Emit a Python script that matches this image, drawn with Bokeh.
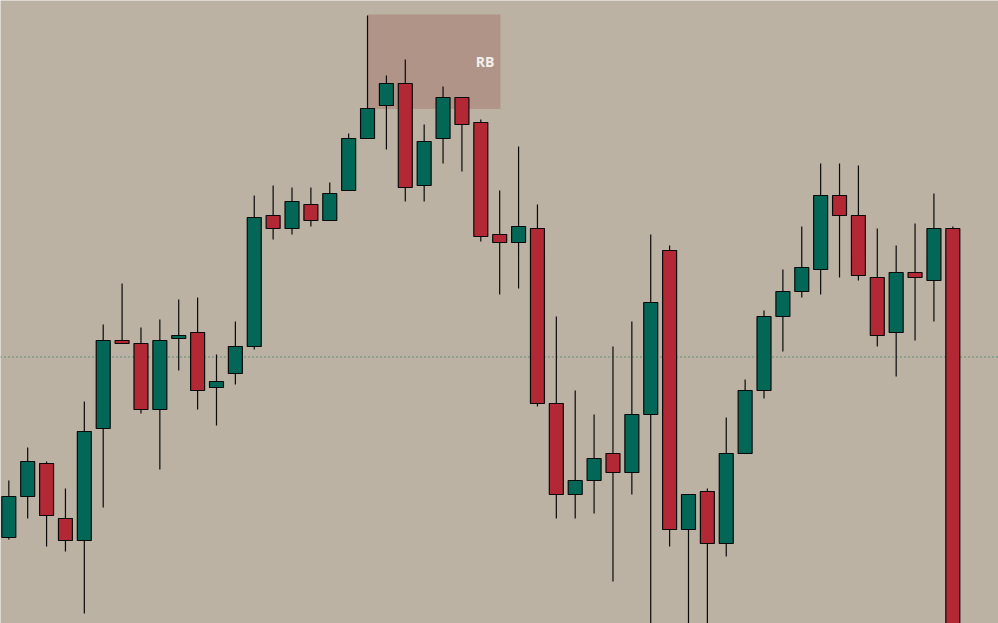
from bokeh.plotting import figure
from bokeh.models import Range1d, ColumnDataSource, Span, BoxAnnotation, Label
from bokeh.embed import file_html
from bokeh.resources import INLINE

# OHLC values (arbitrary price units)
opens  = [86, 127, 160, 105, 83, 195, 283, 280, 214, 285, 291, 236, 250, 277, 408, 395, 419, 403, 433, 485,
          518, 540, 438, 485, 526, 501, 389, 381, 395, 220, 129, 143, 170, 151, 209, 373, 94, 132, 80, 170,
          233, 307, 332, 354, 428, 408, 346, 291, 351, 343, 395]
highs  = [143, 176, 162, 135, 222, 299, 340, 296, 304, 324, 326, 269, 302, 428, 438, 436, 436, 441, 490, 608,
          548, 564, 499, 537, 526, 504, 433, 477, 419, 307, 233, 209, 277, 302, 389, 378, 129, 135, 206, 244,
          313, 354, 397, 460, 460, 458, 395, 378, 400, 430, 397]
lows   = [84, 105, 77, 72, 10, 116, 280, 210, 154, 253, 214, 198, 239, 274, 384, 389, 397, 403, 433, 485,
          474, 422, 422, 460, 452, 382, 329, 335, 217, 105, 105, 110, 42, 129, -9, 77, -17, -22, 67, 170,
          225, 272, 326, 329, 346, 343, 277, 247, 283, 302, -60]
closes = [127, 162, 108, 83, 192, 283, 280, 214, 283, 288, 233, 242, 277, 406, 395, 422, 403, 430, 485, 515,
          540, 436, 482, 526, 499, 387, 381, 397, 220, 129, 143, 165, 151, 209, 321, 94, 129, 80, 170, 233,
          307, 332, 356, 428, 408, 348, 288, 351, 346, 395, -50]

level = 266.5                 # dotted horizontal level
rb_start, rb_end = 19, 26.04  # rejection block span (bar index)
rb_top, rb_bottom = 609, 514.5
rb_label = "RB"

BG = "#bbb2a4"
UP = "#036757"
DOWN = "#b22834"

idx = list(range(len(opens)))
colors = [UP if c >= o else DOWN for o, c in zip(opens, closes)]
tops = [max(o, c) for o, c in zip(opens, closes)]
bots = [min(o, c) for o, c in zip(opens, closes)]
src = ColumnDataSource(dict(x=idx, high=highs, low=lows, top=tops, bottom=bots, color=colors))

p = figure(width=998, height=623, output_backend="svg", toolbar_location=None,
           x_range=Range1d(-0.44, 52.42), y_range=Range1d(0, 623),
           min_border=0, min_border_left=0, min_border_right=0, min_border_top=0, min_border_bottom=0,
           background_fill_color=BG, border_fill_color=BG, outline_line_color=None)
p.xaxis.visible = False
p.yaxis.visible = False
p.xgrid.visible = False
p.ygrid.visible = False

box = BoxAnnotation(left=rb_start, right=rb_end, top=rb_top, bottom=rb_bottom,
                    fill_color="#b09488", fill_alpha=1.0, line_color=None, level="underlay")
p.add_layout(box)
p.add_layout(Label(x=rb_end, y=(rb_top + rb_bottom) / 2, text=rb_label, x_offset=-6,
                   text_align="right", text_baseline="middle", text_color="#f3efea",
                   text_font="Open Sans", text_font_size="14px", text_font_style="bold",
                   level="underlay"))

p.add_layout(Span(location=level, dimension="width", line_color="#0b6b52",
                  line_width=1, line_dash="1 3", level="underlay"))

p.segment(x0="x", y0="high", x1="x", y1="low", source=src, line_color="#0a0a0a", line_width=1.2)
p.vbar(x="x", width=0.74, top="top", bottom="bottom", source=src, fill_color="color",
       line_color="#0a0a0a", line_width=1.2)

html = file_html(p, INLINE)
html = html.replace("<body>", '<body style="background:%s">' % BG, 1)
open("out.html", "w").write(html)
